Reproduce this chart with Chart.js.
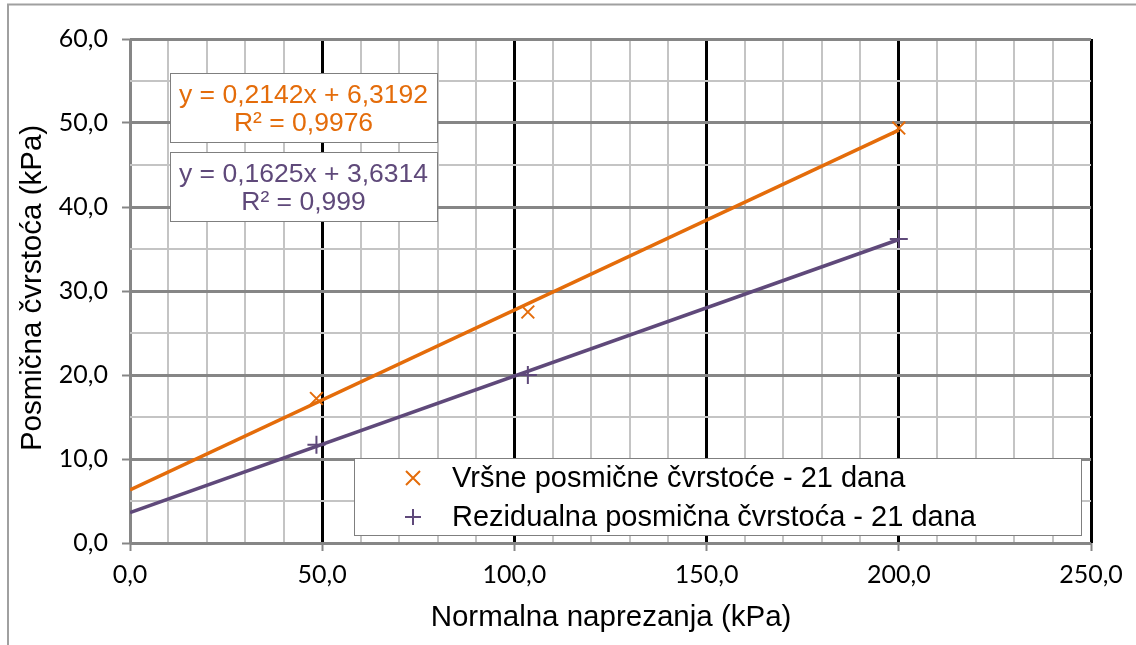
<!DOCTYPE html>
<html>
<head>
  <meta charset="utf-8">
  <title>Posmična čvrstoća</title>
  <script src="https://cdn.jsdelivr.net/npm/chart.js"></script>
  <style>
    html, body { margin: 0; padding: 0; background: #fff; }
    #wrap { width: 1136px; height: 645px; position: relative; }
  </style>
</head>
<body>
  <div id="wrap"><canvas id="shear" width="1136" height="645"></canvas></div>

  <script>
    // measured points
    const normalStress = [48.5, 103.5, 200];
    const peakShear = [17.2, 27.5, 49.4];
    const residualShear = [11.7, 20.0, 36.2];

    // trendline ends
    const trendX = [0, 200];
    const peakTrend = [6.32, 49.16];
    const residualTrend = [3.63, 36.13];

    const seriesNames = ['Vršne posmične čvrstoće - 21 dana', 'Rezidualna posmična čvrstoća - 21 dana'];
    const equations = [
      ['y = 0,2142x + 6,3192', 'R² = 0,9976'],
      ['y = 0,1625x + 3,6314', 'R² = 0,999']
    ];
    const xTitle = 'Normalna naprezanja (kPa)';
    const yTitle = 'Posmična čvrstoća (kPa)';

    const ORANGE = '#E46C0A';
    const PURPLE = '#5F497A';
    const TICK_FONT = { family: 'Lato, "Open Sans", sans-serif', size: 25 };
    const fmt = v => v.toFixed(1).replace('.', ',');
    const pts = (xs, ys) => xs.map((x, i) => ({x: x, y: ys[i]}));

    function drawMark(ctx, kind, x, y, r, color) {
      ctx.save();
      ctx.strokeStyle = color;
      ctx.lineWidth = 2;
      ctx.beginPath();
      if (kind === 'x') {
        ctx.moveTo(x - r, y - r); ctx.lineTo(x + r, y + r);
        ctx.moveTo(x - r, y + r); ctx.lineTo(x + r, y - r);
      } else {
        ctx.moveTo(x - r, y); ctx.lineTo(x + r, y);
        ctx.moveTo(x, y - r); ctx.lineTo(x, y + r);
      }
      ctx.stroke();
      ctx.restore();
    }

    const decor = {
      id: 'decor',
      beforeDraw(chart) {
        const ctx = chart.ctx;
        ctx.save();
        ctx.fillStyle = '#fff';
        ctx.fillRect(0, 0, chart.width, chart.height);
        ctx.strokeStyle = '#a0a0a0';
        ctx.lineWidth = 2;
        ctx.beginPath();
        ctx.moveTo(8, chart.height);
        ctx.lineTo(8, 4.5);
        ctx.lineTo(chart.width, 4.5);
        ctx.stroke();
        ctx.restore();
      },
      afterDatasetsDraw(chart) {
        const ctx = chart.ctx;
        ctx.save();
        // equation boxes
        const boxes = [{y: 73, color: ORANGE}, {y: 152, color: PURPLE}];
        ctx.font = '26.5px "Liberation Sans", Arial, sans-serif';
        ctx.textAlign = 'center';
        ctx.textBaseline = 'middle';
        boxes.forEach((b, i) => {
          ctx.fillStyle = '#fff';
          ctx.fillRect(170, b.y, 267, 69);
          ctx.strokeStyle = '#7f7f7f';
          ctx.lineWidth = 1;
          ctx.strokeRect(170.5, b.y + 0.5, 267, 69);
          ctx.fillStyle = b.color;
          ctx.fillText(equations[i][0], 303.5, b.y + 23);
          ctx.fillText(equations[i][1], 303.5, b.y + 51);
        });

        // legend
        ctx.fillStyle = '#fff';
        ctx.fillRect(354, 458, 727, 77);
        ctx.strokeStyle = '#7f7f7f';
        ctx.strokeRect(354.5, 458.5, 727, 77);
        ctx.font = '29px "Liberation Sans", Arial, sans-serif';
        ctx.textAlign = 'left';
        ctx.fillStyle = '#000';
        drawMark(ctx, 'x', 413, 478, 7, ORANGE);
        ctx.fillText(seriesNames[0], 452, 479);
        drawMark(ctx, '+', 413, 517, 8, PURPLE);
        ctx.fillText(seriesNames[1], 452, 518);

        // axis titles
        ctx.font = '29.5px "Liberation Sans", Arial, sans-serif';
        ctx.textAlign = 'center';
        ctx.fillText(xTitle, 611, 618);
        ctx.translate(33, 288);
        ctx.rotate(-Math.PI / 2);
        ctx.fillText(yTitle, 0, 0);
        ctx.restore();
      }
    };

    const ctx = document.getElementById('shear').getContext('2d');
    new Chart(ctx, {
      type: 'scatter',
      data: {
        datasets: [
          {
            label: seriesNames[0] + ' trend',
            data: pts(trendX, peakTrend),
            showLine: true, pointRadius: 0,
            borderColor: ORANGE, borderWidth: 3.5
          },
          {
            label: seriesNames[1] + ' trend',
            data: pts(trendX, residualTrend),
            showLine: true, pointRadius: 0,
            borderColor: PURPLE, borderWidth: 3.5
          },
          {
            label: seriesNames[0],
            data: pts(normalStress, peakShear),
            pointStyle: 'crossRot', pointRadius: 9,
            borderColor: ORANGE, backgroundColor: ORANGE, pointBorderWidth: 2
          },
          {
            label: seriesNames[1],
            data: pts(normalStress, residualShear),
            pointStyle: 'cross', pointRadius: 9,
            borderColor: PURPLE, backgroundColor: PURPLE, pointBorderWidth: 2
          }
        ]
      },
      options: {
        responsive: false,
        animation: false,
        layout: { padding: { left: 0, top: 39, right: 45, bottom: 0 } },
        plugins: { legend: { display: false }, tooltip: { enabled: false } },
        scales: {
          x: {
            type: 'linear', min: 0, max: 250,
            afterFit: s => { s.height = 102; },
            border: { display: false },
            grid: {
              color: c => c.tick.value === 0 ? '#868686' : (c.tick.value % 50 === 0 ? '#000' : '#c4c4c4'),
              lineWidth: c => c.tick.value % 50 === 0 ? 3 : 2,
              tickColor: c => c.tick.value % 50 === 0 ? '#868686' : 'rgba(0,0,0,0)',
              tickLength: 8, tickWidth: 2
            },
            ticks: {
              stepSize: 10, autoSkip: false, maxRotation: 0, padding: 9,
              color: '#000', font: TICK_FONT,
              callback: v => v % 50 === 0 ? fmt(v) : ''
            }
          },
          y: {
            min: 0, max: 60,
            afterFit: s => { s.width = 130; },
            border: { display: false },
            grid: {
              color: c => c.tick.value % 10 === 0 ? '#868686' : '#c4c4c4',
              lineWidth: c => c.tick.value % 10 === 0 ? 3 : 2,
              tickColor: c => c.tick.value % 10 === 0 ? '#868686' : 'rgba(0,0,0,0)',
              tickLength: 8, tickWidth: 2
            },
            ticks: {
              stepSize: 5, autoSkip: false, padding: 14,
              color: '#000', font: TICK_FONT,
              callback: v => v % 10 === 0 ? fmt(v) : ''
            }
          }
        }
      },
      plugins: [decor]
    });
  </script>
</body>
</html>
